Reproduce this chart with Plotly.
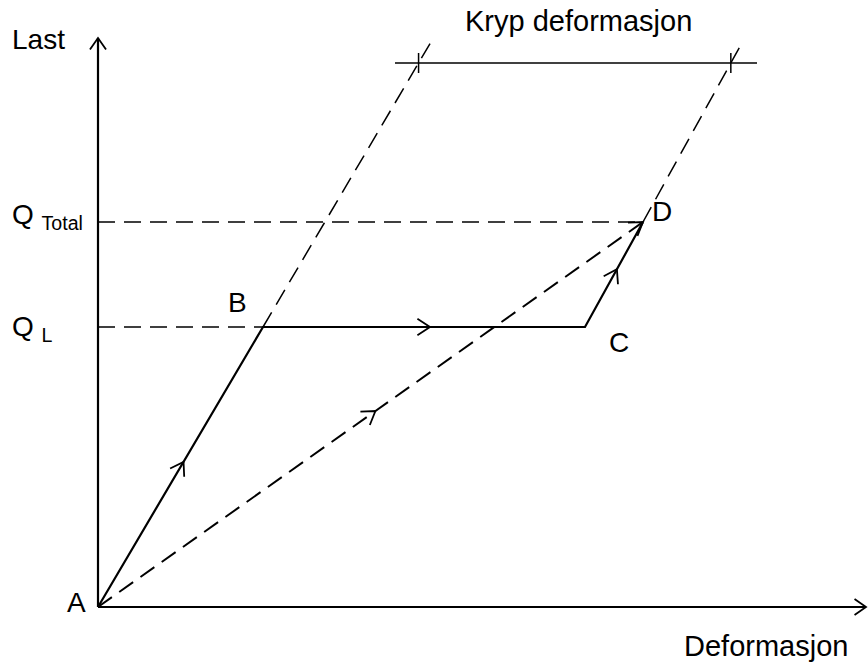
import numpy as np
import plotly.graph_objects as go

# ---- data (diagram units, origin at A) ----
point_labels = ["A", "B", "C", "D"]
deformation = [0, 165, 487, 545]
load = [0, 280, 280, 385]
Q_L = 280
Q_Total = 385
creep_level = 544
creep_line_x = [297, 659]
axis_x_end = 768
axis_y_end = 569
overshoot = 20

A = np.array([deformation[0], load[0]], float)
B = np.array([deformation[1], load[1]], float)
C = np.array([deformation[2], load[2]], float)
D = np.array([deformation[3], load[3]], float)

FONT = "Liberation Sans, Arial, sans-serif"
BLACK = "#000000"
fig = go.Figure()

def line(p, q, dash=None, width=2.0):
    fig.add_trace(go.Scatter(x=[p[0], q[0]], y=[p[1], q[1]], mode="lines",
                             line=dict(color=BLACK, width=width, dash=dash),
                             hoverinfo="skip", showlegend=False, cliponaxis=False))

def chevron(tip, direction, L=15, ang=33, width=1.8):
    u = np.asarray(direction, float)
    u = u / np.linalg.norm(u)
    xs, ys = [], []
    a = np.radians(ang)
    for s in (1, -1):
        c, sn = np.cos(s * a), np.sin(s * a)
        r = np.array([u[0] * c - u[1] * sn, u[0] * sn + u[1] * c])
        xs.append(tip[0] - L * r[0]); ys.append(tip[1] - L * r[1])
    fig.add_trace(go.Scatter(x=[xs[0], tip[0], xs[1]], y=[ys[0], tip[1], ys[1]], mode="lines",
                             line=dict(color=BLACK, width=width),
                             hoverinfo="skip", showlegend=False, cliponaxis=False))

DASH = "17px,9px"

# axes
line(A, (axis_x_end, 0), width=2.2)
line(A, (0, axis_y_end), width=2.2)
chevron((axis_x_end, 0), (1, 0), L=14, ang=35)
chevron((0, axis_y_end), (0, 1), L=14, ang=35)

# horizontal dashed reference lines
line((0, Q_Total), D, dash=DASH, width=1.5)
line((0, Q_L), B, dash=DASH, width=1.5)

# dashed extensions to creep level
dAB = (B - A) / (B[1] - A[1])
endB = B + dAB * (creep_level + overshoot - B[1])
line(B, endB, dash=DASH, width=1.5)
dCD = (D - C) / (D[1] - C[1])
endD = D + dCD * (creep_level + overshoot - D[1])
line(D, endD, dash=DASH, width=1.5)

# creep line
line((creep_line_x[0], creep_level), (creep_line_x[1], creep_level), width=1.5)
for base, d in ((B, dAB), (D, dCD)):
    cx = base[0] + d[0] * (creep_level - base[1])
    line((cx, creep_level - 10), (cx, creep_level + 10), width=1.5)

# solid path A-B-C-D
fig.add_trace(go.Scatter(x=deformation, y=load, mode="lines",
                         line=dict(color=BLACK, width=2.2),
                         hoverinfo="skip", showlegend=False))
# dashed A-D
line(A, D, dash=DASH, width=2.0)

# arrow chevrons
for p, q in ((A, B), (B, C), (C, D), (A, D)):
    chevron((p + q) / 2 + (q - p) / np.linalg.norm(q - p) * 6, q - p)
chevron(D, D - A)

# texts
def txt(x, y, s, size=28, xanchor="center"):
    fig.add_annotation(x=x, y=y, text=s, showarrow=False, xanchor=xanchor, yanchor="middle",
                       font=dict(family=FONT, size=size, color=BLACK))

txt(-60, 568, "Last")
txt(480, 586, "Kryp deformasjon", 29)
txt(668, -39, "Deformasjon", 29)
txt(-88, Q_Total + 6, "Q <sub>Total</sub>", 28, "left")
txt(-88, Q_L - 1, "Q <sub>L</sub>", 28, "left")
txt(-22, 5, point_labels[0])
txt(139, 305, point_labels[1])
txt(521, 265, point_labels[2])
txt(564, 396, point_labels[3])

# 1 unit = 1 px; A sits at page (98, 607)
fig.update_layout(width=868, height=668, margin=dict(l=0, r=0, t=0, b=0),
                  paper_bgcolor="white", plot_bgcolor="white")
fig.update_xaxes(range=[-98, 770], visible=False, fixedrange=True)
fig.update_yaxes(range=[-61, 607], visible=False, fixedrange=True)
fig.write_html("out.html", config={"displayModeBar": False},
               post_script="document.body.style.margin='0';document.body.style.overflow='hidden';")
